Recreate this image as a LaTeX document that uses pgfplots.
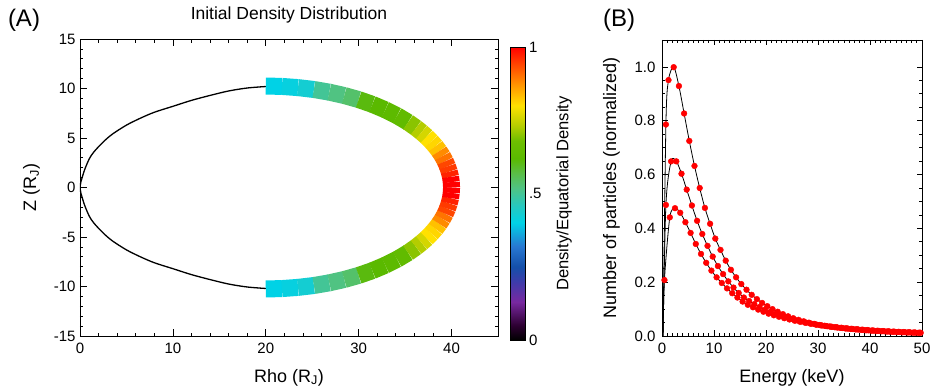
\documentclass[border=0pt]{standalone}
\usepackage{pgfplots}
\usepackage{pgfplotstable}
\pgfplotsset{compat=1.18}
\usepackage{fontspec}
\setmainfont{Liberation Sans}

\pgfplotsset{
  colormap={idlrainbow}{rgb255(0pt)=(0,0,0) rgb255(5pt)=(45,0,50) rgb255(13pt)=(120,40,160) rgb255(20pt)=(60,60,170) rgb255(25pt)=(20,80,170) rgb255(32pt)=(40,120,210) rgb255(40pt)=(0,210,230) rgb255(46pt)=(40,200,190) rgb255(52pt)=(80,195,130) rgb255(57pt)=(90,190,70) rgb255(62pt)=(90,185,0) rgb255(68pt)=(110,190,0) rgb255(73pt)=(180,205,0) rgb255(80pt)=(255,225,0) rgb255(87pt)=(255,150,0) rgb255(94pt)=(255,70,0) rgb255(100pt)=(255,0,0)},
  myaxis/.style={
    scale only axis,
    axis line style={line width=0.8pt},
    tick style={black, line width=0.7pt},
    tick align=inside,
    ticklabel style={font=\fontsize{15}{18}\selectfont},
    label style={font=\fontsize{18}{21}\selectfont},
    xticklabel shift=3pt,
    xlabel shift=9pt,
    /pgf/number format/assume math mode=true,
  }
}

\pgfplotstableread{
E N
0.2 0
0.75 0.786
1.25 0.951
2.25 0.999
3.25 0.929
4.25 0.827
5.25 0.725
6.25 0.632
7.25 0.550
8.25 0.476
9.25 0.417
10.25 0.362
11.25 0.320
12.25 0.280
13.25 0.246
14.25 0.218
15.25 0.193
16.25 0.172
17.25 0.153
18.25 0.137
19.25 0.123
20.25 0.1109
21.25 0.0999
22.25 0.0901
23.25 0.0812
24.25 0.0732
25.25 0.0660
26.25 0.0600
27.25 0.0546
28.25 0.0496
29.25 0.0451
30.25 0.0410
31.25 0.0380
32.25 0.0352
33.25 0.0326
34.25 0.0302
35.25 0.0280
36.25 0.0261
37.25 0.0244
38.25 0.0227
39.25 0.0212
40.25 0.0198
41.25 0.0186
42.25 0.0175
43.25 0.0164
44.25 0.0154
45.25 0.0145
46.25 0.0137
47.25 0.0130
48.25 0.0124
49.25 0.0117
}\topcurve

\pgfplotstableread{
E N
0.2 0
0.75 0.487
1.75 0.649
2.75 0.649
3.75 0.603
4.75 0.544
5.75 0.485
6.75 0.428
7.75 0.379
8.75 0.335
9.75 0.295
10.75 0.260
11.75 0.230
12.75 0.203
13.75 0.180
14.75 0.160
15.75 0.143
16.75 0.1301
17.75 0.1183
18.75 0.1076
19.75 0.0979
20.75 0.0890
21.75 0.0817
22.75 0.0750
23.75 0.0688
24.75 0.0632
25.75 0.0580
26.75 0.0536
27.75 0.0495
28.75 0.0457
29.75 0.0422
30.75 0.0390
31.75 0.0364
32.75 0.0339
33.75 0.0316
34.75 0.0295
35.75 0.0275
36.75 0.0258
37.75 0.0241
38.75 0.0226
39.75 0.0211
40.75 0.0198
41.75 0.0187
42.75 0.0176
43.75 0.0166
44.75 0.0157
45.75 0.0148
46.75 0.0140
47.75 0.0133
48.75 0.0126
49.75 0.0120
}\midcurve

\pgfplotstableread{
E N
0.2 0
0.47 0.208
1.5 0.441
2.5 0.475
3.5 0.458
4.5 0.423
5.5 0.383
6.5 0.342
7.5 0.305
8.5 0.272
9.5 0.243
10.5 0.218
11.5 0.197
12.5 0.177
13.5 0.159
14.5 0.143
15.5 0.128
16.5 0.116
17.5 0.1067
18.5 0.0981
19.5 0.0902
20.5 0.0830
21.5 0.0770
22.5 0.0714
23.5 0.0663
24.5 0.0615
25.5 0.0570
26.5 0.0531
27.5 0.0495
28.5 0.0461
29.5 0.0429
30.5 0.0400
31.5 0.0374
32.5 0.0349
33.5 0.0326
34.5 0.0305
35.5 0.0285
36.5 0.0268
37.5 0.0251
38.5 0.0236
39.5 0.0221
40.5 0.0208
41.5 0.0196
42.5 0.0185
43.5 0.0174
44.5 0.0164
45.5 0.0155
46.5 0.0147
47.5 0.0139
48.5 0.0132
49.5 0.0125
}\lowcurve

\begin{document}
\begin{tikzpicture}[x=1pt,y=1pt]
\useasboundingbox (0,0) rectangle (937,391);
\node at (24,371) {\fontsize{24}{28}\selectfont (A)};
\node at (619,371) {\fontsize{24}{28}\selectfont (B)};

% ---------- Panel A ----------
\begin{axis}[myaxis,
  at={(80pt,55pt)}, anchor=south west,
  width=418pt, height=297pt,
  xmin=0, xmax=45, ymin=-15, ymax=15,
  xtick={0,10,20,30,40}, minor x tick num=4,
  ytick={-15,-10,-5,0,5,10,15}, minor y tick num=4,
  major tick length=7pt, minor tick length=3.5pt,
  xlabel={Rho (R\textsubscript{J})},
  ylabel={Z (R\textsubscript{J})},
  ylabel shift=7pt,
  yticklabel shift=1pt,
  title={Initial Density Distribution},
  title style={font=\fontsize{17.5}{21}\selectfont, yshift=6pt},
  colormap name=idlrainbow,
  point meta min=0, point meta max=1,
  colorbar,
  colorbar style={
    scale only axis, width=15pt, height=293pt,
    at={(parent axis.north east)}, anchor=north west,
    xshift=4pt, yshift=-8pt,
    ytick={0,0.5,1}, yticklabels={0,.5,1},
    major tick length=0pt,
    yticklabel pos=right,
    yticklabel style={font=\fontsize{15}{18}\selectfont},
    ylabel={Density/Equatorial Density},
    ylabel near ticks,
    ylabel shift=8pt,
    ylabel style={font=\fontsize{16.6}{20}\selectfont},
    axis line style={line width=0.8pt},
  },
]
\addplot[black, line width=1.3pt, smooth] coordinates {
(0,0) (0.1,0.6) (0.2,0.9) (0.5,1.8) (1,2.9) (1.5,3.6) (2.5,4.6) (3.5,5.4) (5,6.3) (6.5,7.0) (8,7.6) (10,8.2) (12,8.8) (14,9.3) (16,9.75) (18,10.05) (20,10.2)};
\addplot[black, line width=1.3pt, smooth] coordinates {
(0,0) (0.1,-0.6) (0.2,-0.9) (0.5,-1.8) (1,-2.9) (1.5,-3.6) (2.5,-4.6) (3.5,-5.4) (5,-6.3) (6.5,-7.0) (8,-7.6) (10,-8.2) (12,-8.8) (14,-9.3) (16,-9.75) (18,-10.05) (20,-10.2)};
\addplot[mesh, shader=flat corner, line width=17pt, point meta=explicit] coordinates {
(20.00,10.25) [0.40]
(21.74,10.21) [0.41]
(23.47,10.09) [0.43]
(25.18,9.90) [0.50]
(26.84,9.63) [0.52]
(28.45,9.29) [0.54]
(30.00,8.88) [0.61]
(31.47,8.40) [0.62]
(32.86,7.85) [0.63]
(34.14,7.25) [0.64]
(35.32,6.59) [0.70]
(36.18,6.02) [0.73]
(36.77,5.58) [0.76]
(37.32,5.13) [0.80]
(37.82,4.65) [0.81]
(38.27,4.17) [0.83]
(38.67,3.67) [0.88]
(39.02,3.17) [0.90]
(39.32,2.65) [0.94]
(39.56,2.13) [0.95]
(39.75,1.60) [0.97]
(39.89,1.07) [1.00]
(39.97,0.54) [1.00]
(40.00,0.00) [1.00]
};
\addplot[mesh, shader=flat corner, line width=17pt, point meta=explicit] coordinates {
(20.00,-10.25) [0.40]
(21.74,-10.21) [0.41]
(23.47,-10.09) [0.43]
(25.18,-9.90) [0.50]
(26.84,-9.63) [0.52]
(28.45,-9.29) [0.54]
(30.00,-8.88) [0.61]
(31.47,-8.40) [0.62]
(32.86,-7.85) [0.63]
(34.14,-7.25) [0.64]
(35.32,-6.59) [0.70]
(36.18,-6.02) [0.73]
(36.77,-5.58) [0.76]
(37.32,-5.13) [0.80]
(37.82,-4.65) [0.81]
(38.27,-4.17) [0.83]
(38.67,-3.67) [0.88]
(39.02,-3.17) [0.90]
(39.32,-2.65) [0.94]
(39.56,-2.13) [0.95]
(39.75,-1.60) [0.97]
(39.89,-1.07) [1.00]
(39.97,-0.54) [1.00]
(40.00,0.00) [1.00]
};
\end{axis}

% ---------- Panel B ----------
\begin{axis}[myaxis,
  at={(662pt,55pt)}, anchor=south west,
  width=260pt, height=296pt,
  xmin=0, xmax=50, ymin=0, ymax=1.1,
  xtick={0,10,20,30,40,50}, minor x tick num=9,
  ytick={0,0.2,0.4,0.6,0.8,1.0}, minor y tick num=3,
  major tick length=5.5pt, minor tick length=2.8pt,
  yticklabel style={/pgf/number format/.cd, fixed, fixed zerofill, precision=1},
  yticklabel shift=3pt,
  ylabel shift=8pt,
  xlabel={Energy (keV)},
  ylabel={Number of particles (normalized)},
]
\addplot[black, line width=0.8pt, smooth] table[x=E,y=N] {\topcurve};
\addplot[black, line width=0.8pt, smooth] table[x=E,y=N] {\midcurve};
\addplot[black, line width=0.8pt, smooth] table[x=E,y=N] {\lowcurve};
\addplot[only marks, mark=*, mark size=2.9pt, color=red, skip coords between index={0}{1}] table[x=E,y=N] {\topcurve};
\addplot[only marks, mark=*, mark size=2.9pt, color=red, skip coords between index={0}{1}] table[x=E,y=N] {\midcurve};
\addplot[only marks, mark=*, mark size=2.9pt, color=red, skip coords between index={0}{1}] table[x=E,y=N] {\lowcurve};
\end{axis}
\end{tikzpicture}
\end{document}
